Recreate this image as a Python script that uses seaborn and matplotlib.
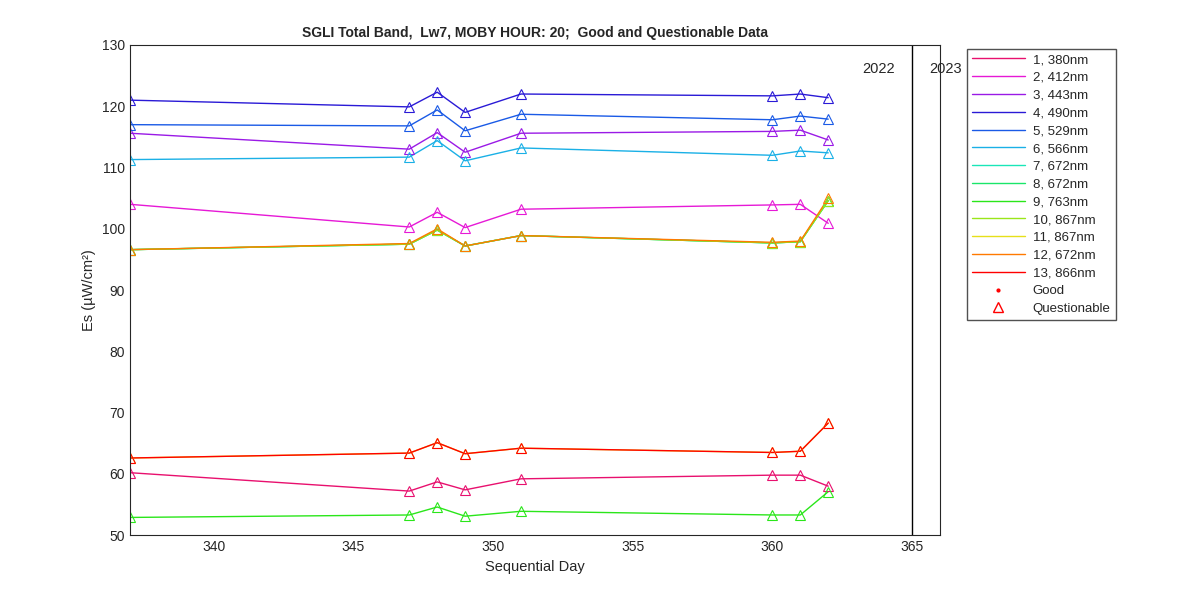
import matplotlib
matplotlib.use("Agg")
import matplotlib.pyplot as plt
import seaborn as sns
import pandas as pd
from matplotlib.lines import Line2D

days = [337, 347, 348, 349, 351, 360, 361, 362]
labels = ["1, 380nm", "2, 412nm", "3, 443nm", "4, 490nm", "5, 529nm", "6, 566nm",
          "7, 672nm", "8, 672nm", "9, 763nm", "10, 867nm", "11, 867nm", "12, 672nm", "13, 866nm"]
colors = ["#e8106e", "#e619d6", "#9a1ae6", "#2a1ad6", "#1a5ae6", "#1ab0e6",
          "#1ae6b8", "#1ae66a", "#2ae61a", "#9ae61a", "#e6e01a", "#ff7a00", "#ff0000"]

es_380 = [60.2, 57.2, 58.7, 57.4, 59.2, 59.8, 59.8, 58.0]
es_412 = [104.0, 100.3, 102.7, 100.2, 103.2, 103.9, 104.0, 100.9]
es_443 = [115.6, 113.0, 115.7, 112.5, 115.6, 115.9, 116.1, 114.5]
es_490 = [121.0, 119.9, 122.3, 119.0, 122.0, 121.7, 122.0, 121.4]
es_529 = [117.0, 116.8, 119.4, 116.0, 118.7, 117.8, 118.4, 117.9]
es_566 = [111.3, 111.7, 114.4, 111.1, 113.2, 112.0, 112.7, 112.4]
es_672a = [96.6, 97.5, 99.8, 97.2, 98.9, 97.7, 97.9, 104.6]
es_672b = [96.6, 97.5, 99.8, 97.2, 98.9, 97.7, 97.9, 104.6]
es_763 = [52.9, 53.3, 54.6, 53.1, 53.9, 53.3, 53.3, 57.1]
es_867a = [96.6, 97.5, 99.8, 97.2, 98.9, 97.7, 97.9, 104.6]
es_867b = [62.6, 63.4, 65.1, 63.3, 64.2, 63.5, 63.7, 68.3]
es_672c = [96.6, 97.6, 100.0, 97.2, 98.9, 97.8, 98.0, 105.0]
es_866 = [62.6, 63.4, 65.1, 63.3, 64.2, 63.5, 63.7, 68.3]

series = [es_380, es_412, es_443, es_490, es_529, es_566, es_672a, es_672b,
          es_763, es_867a, es_867b, es_672c, es_866]

rows = []
for lab, vals in zip(labels, series):
    for d, v in zip(days, vals):
        rows.append({"day": d, "es": v, "band": lab})
df = pd.DataFrame(rows)

sns.set_style("white")
plt.rcParams["font.family"] = "Liberation Sans"
fig = plt.figure(figsize=(12, 6), dpi=100)
ax = fig.add_axes([0.1083, 0.108, 0.675, 0.817])
pal = dict(zip(labels, colors))
sns.lineplot(data=df, x="day", y="es", hue="band", palette=pal, ax=ax,
             linewidth=1, legend=False, sort=False)
for lab in labels:
    sub = df[df.band == lab]
    ax.plot(sub.day, sub.es, linestyle="none", marker="^", markersize=6.5,
            markerfacecolor="none", markeredgecolor=pal[lab], markeredgewidth=0.8)

ax.axvline(365, color="black", linewidth=1)
ax.text(363.2, 125, "2022", fontsize=10.5, va="bottom")
ax.text(365.6, 125, "2023", fontsize=10.5, va="bottom")
ax.set_xlim(337, 366)
ax.set_ylim(50, 130)
ax.set_xticks([340, 345, 350, 355, 360, 365])
ax.set_yticks(range(50, 131, 10))
ax.tick_params(direction="in", length=4, labelsize=10, colors="#262626")
for s in ax.spines.values():
    s.set_color("#262626")
ax.set_xlabel("Sequential Day", fontsize=10.5)
ax.set_ylabel("Es (µW/cm²)", fontsize=10.5)
ax.set_title("SGLI Total Band,  Lw7, MOBY HOUR: 20;  Good and Questionable Data",
             fontsize=10, fontweight="bold")

handles = [Line2D([], [], color=c, linewidth=1) for c in colors]
handles.append(Line2D([], [], linestyle="none", marker=".", color="red", markersize=4))
handles.append(Line2D([], [], linestyle="none", marker="^", markerfacecolor="none",
                      markeredgecolor="red", markersize=7))
leg = fig.legend(handles, labels + ["Good", "Questionable"], loc="upper left",
                 bbox_to_anchor=(0.8, 0.93), fontsize=9.5, frameon=True, fancybox=False,
                 handlelength=4, labelspacing=0.42, borderpad=0.4, handletextpad=0.6)
leg.get_frame().set_edgecolor("#262626")
fig.savefig("out.png", dpi=100)
